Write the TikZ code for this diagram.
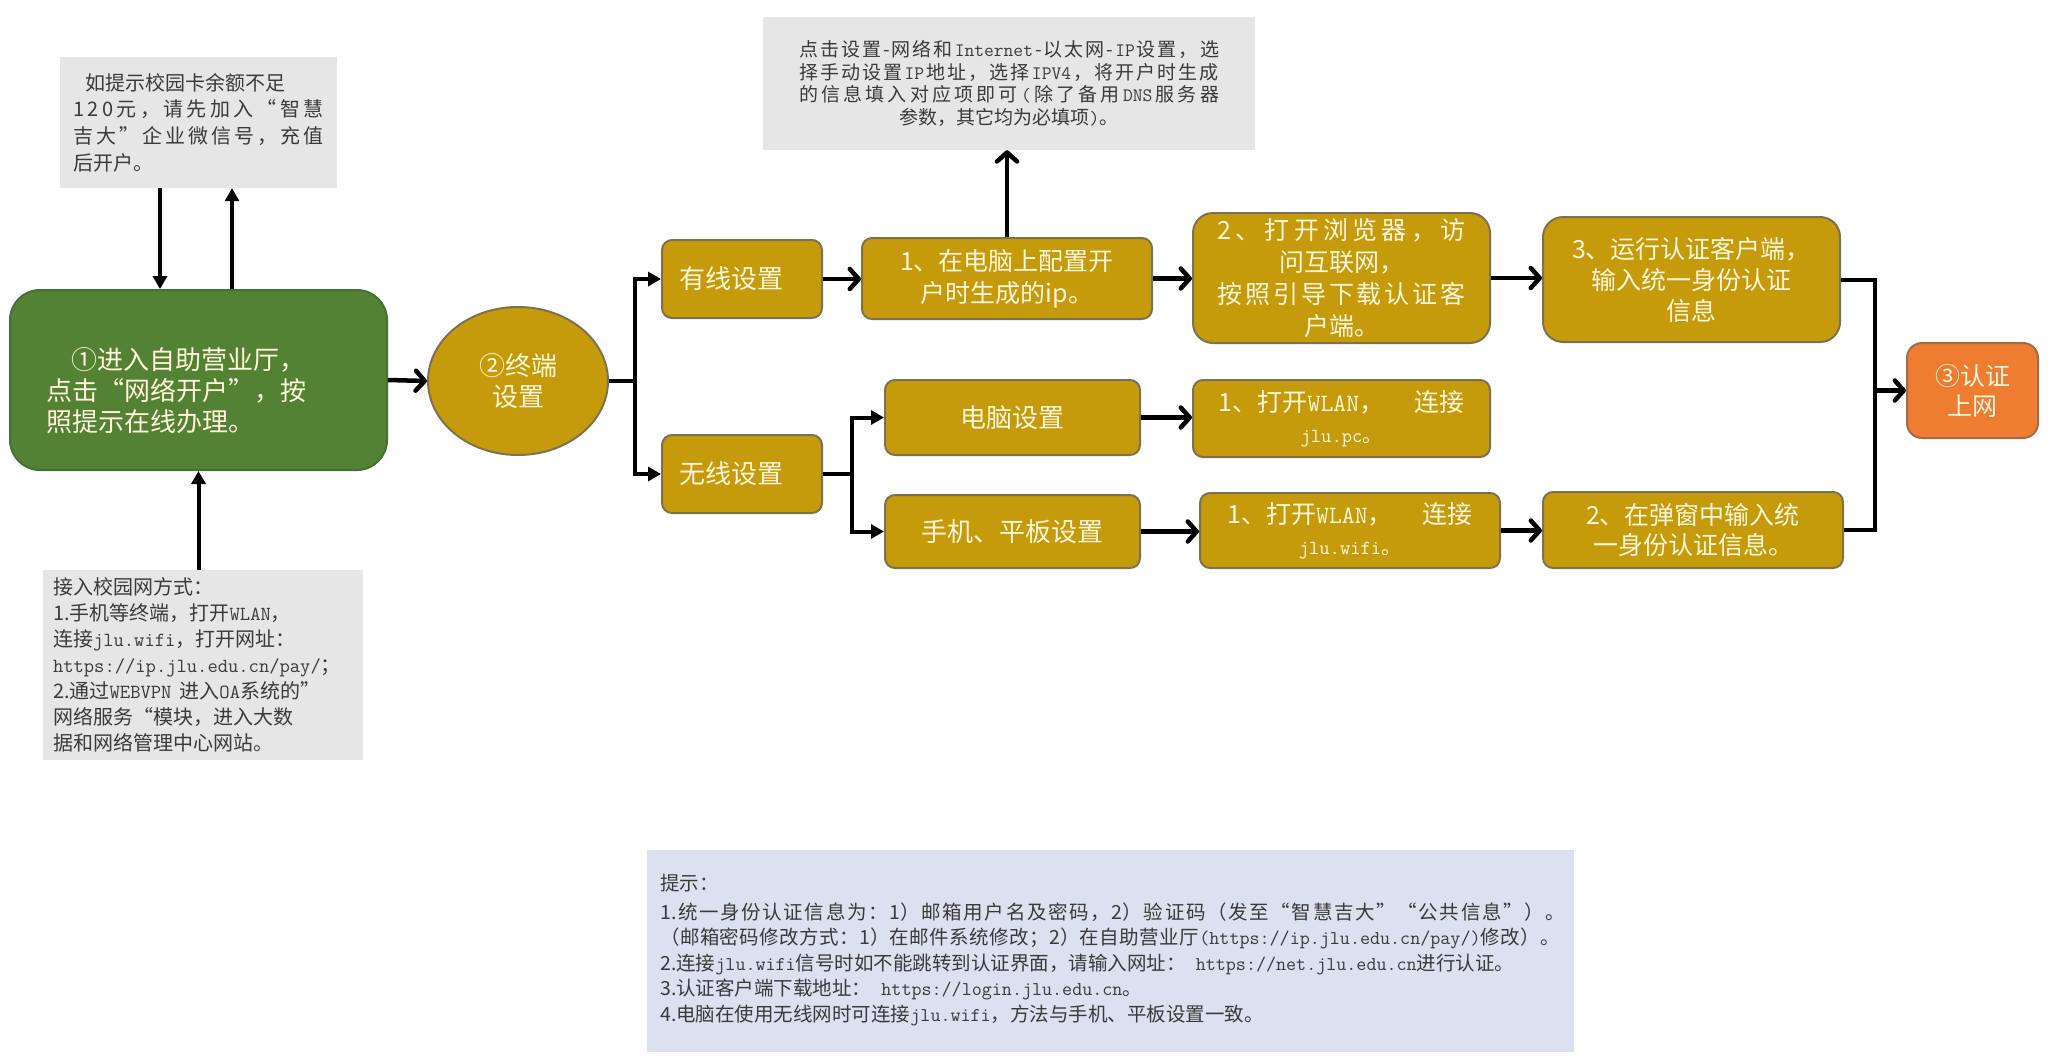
\documentclass[tikz,border=0pt]{standalone}
\usepackage{fontspec}
\setmainfont{Noto Sans CJK SC}
\usetikzlibrary{arrows.meta,shapes.geometric}
\definecolor{gold}{HTML}{C69B0B}
\definecolor{goldline}{HTML}{7D7250}
\definecolor{greenfill}{HTML}{548235}
\definecolor{greenline}{HTML}{46703A}
\definecolor{orangefill}{HTML}{EE7D32}
\definecolor{orangeline}{HTML}{A86A45}
\definecolor{cream}{HTML}{FFF6DC}
\definecolor{tipgray}{HTML}{E6E6E6}
\definecolor{tiptext}{HTML}{3A3A3A}
\definecolor{notefill}{HTML}{DCE1F2}
\newcommand\mt[1]{{\ttfamily #1}}
\def\sprA#1{#1\sprB}
\def\sprB#1{\ifx\relax#1\else\hfill#1\expandafter\sprB\fi}
\newcommand\spreadline[2]{\hbox to #1{\sprA#2\relax}}
\begin{document}
\begin{tikzpicture}[x=1pt,y=-1pt,
  goldbox/.style={draw=goldline, line width=2pt, fill=gold, rounded corners=10pt, text=cream, inner sep=0pt, align=center, font=\fontsize{25pt}{31pt}\selectfont},
  bigfont/.style={font=\fontsize{26pt}{31pt}\selectfont},
  graybox/.style={fill=tipgray, draw=none, text=tiptext, inner sep=0pt},
  arr/.style={line width=4.5pt, -{Straight Barb[length=9pt,width=20pt,round]}},
  tri/.style={line width=4pt, -{Triangle[length=13pt,width=14pt]}},
  elbow/.style={line width=4pt}]
\useasboundingbox (0,0) rectangle (2048,1063);

% gray tip boxes
\node[graybox, minimum width=277pt, minimum height=131pt, align=left, font=\fontsize{20pt}{26.7pt}\selectfont] (tip1) at (198.5,122.5)
 {\hspace*{12pt}如提示校园卡余额不足\\\spreadline{250pt}{120元，请先加入“智慧}\\\spreadline{250pt}{吉大”企业微信号，充值}\\后开户。};
\node[graybox, minimum width=320pt, minimum height=190pt, text width=300pt, align=left, font=\fontsize{20pt}{26pt}\selectfont] (tip2) at (203,665)
 {接入校园网方式：\\1.手机等终端，打开\mt{WLAN}，\\连接\mt{jlu.wifi}，打开网址：\\\mt{https://ip.jlu.edu.cn/pay/}；\\2.通过\mt{WEBVPN}\kern8pt 进入\mt{OA}系统的”\\网络服务“模块，进入大数\\据和网络管理中心网站。};
\node[graybox, minimum width=492pt, minimum height=133pt, align=center, font=\fontsize{19pt}{22.5pt}\selectfont] (tip3) at (1009,83.5)
 {\spreadline{420pt}{点击设置-网络和{\mt{Internet}}-以太网-{\mt{IP}}设置，选}\\
  \spreadline{420pt}{择手动设置{\mt{IP}}地址，选择{\mt{IPV4}}，将开户时生成}\\
  \spreadline{420pt}{的信息填入对应项即可{\mt{(}}除了备用{\mt{DNS}}服务器}\\
  参数，其它均为必填项\mt{)}。};

% note box
\node[fill=notefill, draw=none, inner sep=0pt, minimum width=927pt, minimum height=202pt] (note) at (1110.5,951) {};
\node[anchor=north west, inner sep=0pt, align=left, text=tiptext, font=\fontsize{19.5pt}{25.6pt}\selectfont] (notetext) at (660,874)
 {提示：\\[3pt]
  \spreadline{905pt}{{1.}统一身份认证信息为：{1）}邮箱用户名及密码，{2）}验证码（发至“智慧吉大”“公共信息”）。}\\
  \spreadline{900pt}{（邮箱密码修改方式：{1）}在邮件系统修改；{2）}在自助营业厅{\mt{(https://ip.jlu.edu.cn/pay/)}}修改）。}\\
  2.连接\mt{jlu.wifi}信号时如不能跳转到认证界面，请输入网址：\kern10pt\mt{https://net.jlu.edu.cn}进行认证。\\
  3.认证客户端下载地址：\kern10pt\mt{https://login.jlu.edu.cn}。\\
  4.电脑在使用无线网时可连接\mt{jlu.wifi}，方法与手机、平板设置一致。};

% main flow
\node[draw=greenline, line width=2pt, fill=greenfill, rounded corners=30pt, minimum width=377pt, minimum height=180pt, inner sep=0pt] (open) at (198.5,380) {};
\node[anchor=west, inner sep=0pt, align=left, text=cream, bigfont] (opentext) at (46,391)
 {\hspace*{25pt}①进入自助营业厅，\\点击“网络开户”，按\\照提示在线办理。};
\node[goldbox, ellipse, bigfont, minimum width=180pt, minimum height=148pt] (term) at (518,381) {②终端\\设置};
\node[goldbox, bigfont, minimum width=160pt, minimum height=78pt] (wired) at (742,279) {\hspace*{-22pt}有线设置};
\node[goldbox, bigfont, minimum width=160pt, minimum height=78pt] (wireless) at (742,474) {\hspace*{-22pt}无线设置};
\node[goldbox, minimum width=290pt, minimum height=81pt, font=\fontsize{25pt}{32pt}\selectfont] (ip) at (1007,278.5) {1、在电脑上配置开\\户时生成的ip。};
\node[goldbox, rounded corners=20pt, minimum width=297pt, minimum height=130pt, font=\fontsize{25pt}{32pt}\selectfont] (browser) at (1341.5,278)
 {\spreadline{248pt}{2、打开浏览器，访}\\问互联网，\\\spreadline{248pt}{按照引导下载认证客}\\户端。};
\node[goldbox, rounded corners=20pt, minimum width=297pt, minimum height=125pt] (client) at (1691.5,279.5) {3、运行认证客户端，\\输入统一身份认证\\信息};
\node[goldbox, bigfont, minimum width=255pt, minimum height=75pt] (pc) at (1012.5,417.5) {电脑设置};
\node[goldbox, bigfont, minimum width=255pt, minimum height=73pt] (phone) at (1012.5,531.5) {手机、平板设置};
\node[goldbox, minimum width=297pt, minimum height=77pt] (pcwlan) at (1341.5,418.5)
 {1、打开\mt{WLAN}，\hspace{30pt}连接\\{\fontsize{20pt}{22pt}\selectfont\mt{jlu.pc}。}};
\node[goldbox, minimum width=300pt, minimum height=75pt] (phonewlan) at (1350,530.5)
 {1、打开\mt{WLAN}，\hspace{30pt}连接\\{\fontsize{20pt}{22pt}\selectfont\mt{jlu.wifi}。}};
\node[goldbox, minimum width=300pt, minimum height=76pt, font=\fontsize{25pt}{30pt}\selectfont] (popup) at (1693,530) {2、在弹窗中输入统\\一身份认证信息。};
\node[draw=orangeline, line width=2pt, fill=orangefill, rounded corners=15pt, minimum width=131pt, minimum height=95pt, inner sep=0pt, text=cream, align=center, font=\fontsize{25pt}{30pt}\selectfont] (auth) at (1972.5,390.5) {③认证\\上网};

% connectors
\draw[tri] ([xshift=-38.5pt]tip1.south) -- ([xshift=-38.5pt]open.north);
\draw[tri] ([xshift=33.5pt]open.north) -- ([xshift=33.5pt]tip1.south);
\draw[tri] (tip2.north -| open.south) -- (open.south);
\draw[arr] (open.east) -- (term.west);
\coordinate (br1) at (635,381);
\draw[elbow] (term.east) -- (br1);
\draw[tri] (br1) |- (wired.west);
\draw[tri] (br1) |- (wireless.west);
\draw[arr] (wired.east) -- (wired.east -| ip.west);
\draw[arr] (ip.east) -- (ip.east -| browser.west);
\draw[arr] (ip.north) -- (ip.north |- tip3.south);
\draw[arr] (browser.east) -- (browser.east -| client.west);
\coordinate (br2) at (852,474);
\draw[elbow] (wireless.east) -- (br2);
\draw[tri] (br2) |- (pc.west);
\draw[tri] (br2) |- (phone.west);
\draw[arr] (pc.east) -- (pc.east -| pcwlan.west);
\draw[arr] (phone.east) -- (phone.east -| phonewlan.west);
\draw[arr] (phonewlan.east) -- (phonewlan.east -| popup.west);
\coordinate (br3) at (1875,390.5);
\draw[elbow] (client.east) -| (br3) |- (popup.east);
\draw[arr] (br3) -- (auth.west);
\end{tikzpicture}
\end{document}
